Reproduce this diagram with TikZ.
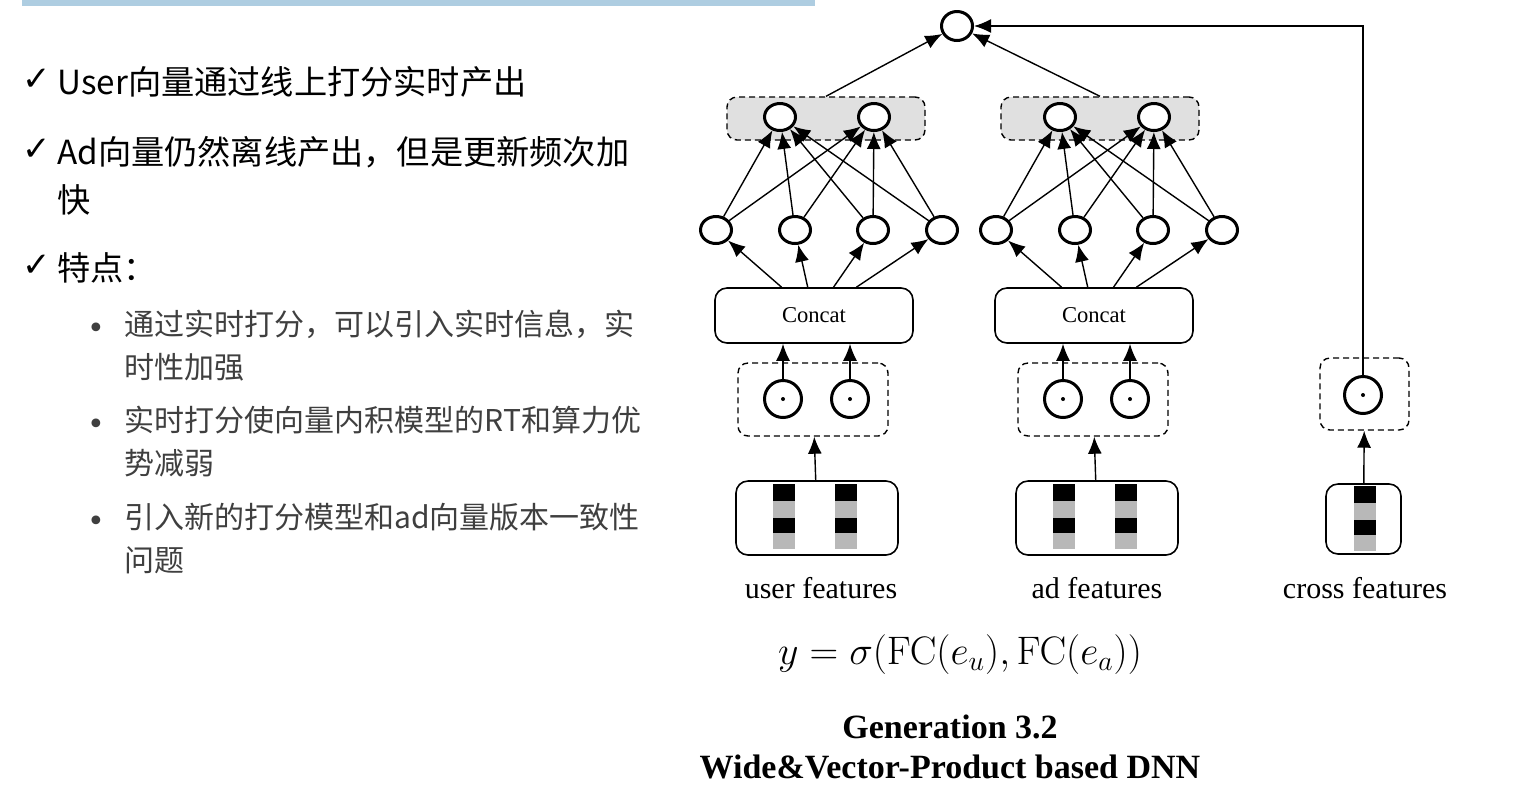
\RequirePackage{fix-cm}
\documentclass[tikz,border=0pt]{standalone}
\usepackage[no-math]{fontspec}
\setmainfont{Liberation Serif}
\newfontfamily\cjk{Noto Sans CJK SC}
\newfontfamily\symf{DejaVu Sans}
\usetikzlibrary{arrows.meta,shapes.geometric}
\definecolor{band}{HTML}{AECDE1}
\definecolor{boxgray}{HTML}{E0E0E0}
\definecolor{bargray}{HTML}{B8B8B8}
\definecolor{subtext}{HTML}{3F3F3F}

\tikzset{
  neuron/.style={draw,ellipse,line width=1.5pt,fill=white,minimum width=15.5pt,minimum height=13.5pt,inner sep=0pt},
  dotnode/.style={draw,circle,line width=1.5pt,minimum size=18.5pt,inner sep=0pt},
  dashbox/.style={draw,line width=0.7pt,dash pattern=on 3pt off 2pt,rounded corners=5pt,inner sep=0pt},
  catbox/.style={draw,line width=0.8pt,rounded corners=6pt,minimum width=99pt,minimum height=27.5pt,font=\fontsize{11.3}{13}\selectfont},
  featbox/.style={draw,line width=0.8pt,rounded corners=6pt,minimum height=37pt,inner sep=0pt},
  conn/.style={-{Latex[length=8.5pt,width=7pt]},line width=0.7pt},
  lvlone/.style={anchor=west,inner sep=0pt,font=\cjk\fontsize{16.6}{20}\selectfont},
  lvltwo/.style={anchor=west,inner sep=0pt,text=subtext,font=\cjk\fontsize{15}{18}\selectfont},
}
\newcommand\featbar[2]{%
  \fill[black] (#1-11,#2) rectangle (#1+11,#2+17);
  \fill[bargray] (#1-11,#2+17) rectangle (#1+11,#2+34);
  \fill[black] (#1-11,#2+34) rectangle (#1+11,#2+49);
  \fill[bargray] (#1-11,#2+49) rectangle (#1+11,#2+65);}

\begin{document}
\begin{tikzpicture}[x=0.5pt,y=-0.5pt]
  \useasboundingbox (0,0) rectangle (1520,800);
  \fill[band] (22,0) rectangle (815,6);

  % left column text
  \foreach \yy/\txt [count=\i] in {82/{User向量通过线上打分实时产出},152/{Ad向量仍然离线产出，但是更新频次加},200/{快},268/{特点：}}
    \node[lvlone] (main\i) at (57,\yy) {\txt};
  \foreach \yy [count=\i] in {80,150,266}
    \node[anchor=west,inner sep=0pt,font=\symf\fontsize{17}{19}\selectfont] (tick\i) at (22,\yy) {✓};
  \foreach \yy/\txt [count=\i] in {324/{通过实时打分，可以引入实时信息，实},367/{时性加强},420/{实时打分使向量内积模型的RT和算力优},463/{势减弱},517/{引入新的打分模型和ad向量版本一致性},560/{问题}}
    \node[lvltwo] (sub\i) at (124,\yy) {\txt};
  \foreach \yy [count=\i] in {324,420,517}
    \node[inner sep=0pt,text=subtext,font=\symf\fontsize{15}{17}\selectfont] (dot\i) at (96,\yy+7) {•};

  % output unit
  \node[neuron,minimum height=14.5pt] (top) at (957,26) {};

  % user and ad towers
  \foreach \g/\xoff/\hb/\lx/\lbl in {u/0/826/821/{user features},a/280/1100/1097/{ad features}}{
    \node[dashbox,fill=boxgray,minimum width=99pt,minimum height=21.5pt] (\g-hid) at (\hb,118.5) {};
    \foreach \xx [count=\j] in {780,874}
      \node[neuron] (\g-h\j) at (\xx+\xoff,117) {};
    \foreach \xx [count=\j] in {716,795,873,942}
      \node[neuron] (\g-l\j) at (\xx+\xoff,230) {};
    \node[catbox] (\g-cat) at (814+\xoff,315.5) {Concat};
    \node[dashbox,minimum width=75pt,minimum height=36.5pt] (\g-pbox) at (813+\xoff,399.5) {};
    \foreach \xx [count=\j] in {783,850}{
      \node[dotnode] (\g-p\j) at (\xx+\xoff,399) {};
      \fill (\g-p\j) circle (1pt);
      \draw[conn] (\g-p\j) -- (\g-p\j |- \g-cat.south);
    }
    \node[featbox,minimum width=81pt] (\g-feat) at (817+\xoff,518) {};
    \featbar{783.5+\xoff}{484}
    \featbar{846+\xoff}{484}
    \node[font=\fontsize{15}{18}\selectfont] (\g-lab) at (\lx,588) {\lbl};
    \draw[conn] (\g-feat) -- (\g-pbox);
    \foreach \j in {1,...,4}{
      \draw[conn] (\g-cat) -- (\g-l\j);
      \draw[conn] (\g-l\j) -- (\g-h1);
      \draw[conn] (\g-l\j) -- (\g-h2);
    }
    \draw[conn] (\g-hid.north) -- (top);
  }

  % cross features, wide part
  \node[dashbox,minimum width=44.5pt,minimum height=36pt] (c-pbox) at (1364.5,394) {};
  \node[dotnode] (c-p1) at (1363,395) {};
  \fill (c-p1) circle (1pt);
  \node[featbox,minimum width=37.5pt,minimum height=35pt] (c-feat) at (1363.5,519) {};
  \featbar{1365}{486}
  \node[font=\fontsize{15}{18}\selectfont] (c-lab) at (1365,588) {cross features};
  \draw[conn] (c-feat) -- (c-pbox);
  \draw[conn] (c-p1.north) |- (top);

  % formula and caption
  \node[font=\fontsize{19.9}{24}\selectfont] (eq) at (960,655) {$y=\sigma(\mathrm{FC}(e_u),\mathrm{FC}(e_a))$};
  \node[align=center,font=\bfseries\fontsize{17}{20}\selectfont] (cap) at (950,747) {Generation 3.2\\Wide\&Vector-Product based DNN};
\end{tikzpicture}
\end{document}
